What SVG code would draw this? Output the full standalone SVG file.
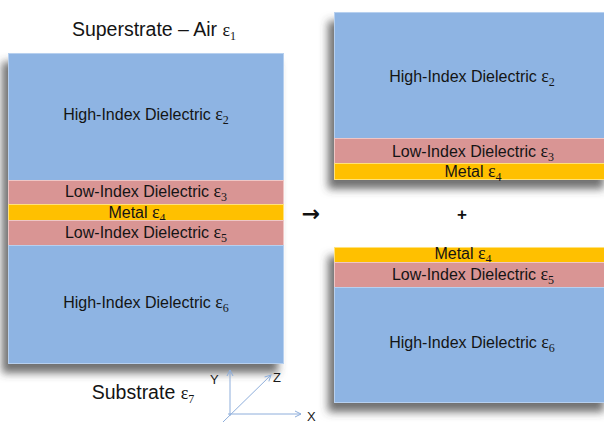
<svg xmlns="http://www.w3.org/2000/svg" width="604" height="423" viewBox="0 0 604 423">
<defs>
<filter id="sh" x="-20%" y="-20%" width="140%" height="140%">
<feDropShadow dx="-6" dy="9" stdDeviation="4.5" flood-color="#404040" flood-opacity="0.75"/>
</filter>
<marker id="ah" viewBox="0 0 8 8" refX="7" refY="4" markerWidth="8" markerHeight="8" markerUnits="userSpaceOnUse" orient="auto">
<path d="M1,1 L7,4 L1,7" fill="none" stroke="#8eaedb" stroke-width="1"/>
</marker>
</defs>
<style>
.hi{fill:#8eb4e3;stroke:#b7d0ef;stroke-width:1}
.lo{fill:#d99594;stroke:#efc6c5;stroke-width:1}
.me{fill:#ffc000;stroke:#ffe27a;stroke-width:1}
.t{font-family:"Liberation Sans",Arial,sans-serif;font-size:16px;fill:#141414;text-anchor:middle}
.big{font-size:19.5px}
.e{font-family:"Liberation Serif","Times New Roman",serif;font-size:18px}
.s{font-family:"Liberation Serif","Times New Roman",serif;font-size:12px}
.ax{stroke:#8eaedb;stroke-width:1;fill:none}
.axl{font-family:"Liberation Sans",Arial,sans-serif;font-size:13px;fill:#1a1a1a}
</style>
<rect width="604" height="423" fill="#ffffff"/>

<g id="left-stack">
<g filter="url(#sh)">
<rect x="8" y="53" width="276" height="311" fill="#8eb4e3"/>
</g>
<g id="left-high2"><rect class="hi" x="8.5" y="53.5" width="275" height="127"/>
<text class="t" x="146" y="120">High-Index Dielectric <tspan class="e">ε</tspan><tspan class="s" dy="4">2</tspan></text></g>
<g id="left-low3"><rect class="lo" x="8.5" y="180.5" width="275" height="24"/>
<text class="t" x="146" y="197">Low-Index Dielectric <tspan class="e">ε</tspan><tspan class="s" dy="4">3</tspan></text></g>
<g id="left-metal4"><rect class="me" x="8.5" y="204.5" width="275" height="16"/>
<text class="t" x="137" y="218">Metal <tspan class="e">ε</tspan><tspan class="s" dy="4">4</tspan></text></g>
<g id="left-low5"><rect class="lo" x="8.5" y="220.5" width="275" height="25"/>
<text class="t" x="146" y="238">Low-Index Dielectric <tspan class="e">ε</tspan><tspan class="s" dy="4">5</tspan></text></g>
<g id="left-high6"><rect class="hi" x="8.5" y="245.5" width="275" height="118"/>
<text class="t" x="146" y="308">High-Index Dielectric <tspan class="e">ε</tspan><tspan class="s" dy="4">6</tspan></text></g>
</g>

<g id="superstrate"><text class="t big" x="154" y="36">Superstrate – Air <tspan class="e" font-size="21">ε</tspan><tspan class="s" font-size="14" dy="4">1</tspan></text></g>
<g id="substrate"><text class="t big" x="143" y="399">Substrate <tspan class="e" font-size="21">ε</tspan><tspan class="s" font-size="14" dy="4">7</tspan></text></g>

<g id="right-top">
<g filter="url(#sh)">
<rect x="334" y="12" width="276" height="168" fill="#8eb4e3"/>
</g>
<g id="rt-high2"><rect class="hi" x="334.5" y="12.5" width="275" height="126"/>
<text class="t" x="472" y="82">High-Index Dielectric <tspan class="e">ε</tspan><tspan class="s" dy="4">2</tspan></text></g>
<g id="rt-low3"><rect class="lo" x="334.5" y="138.5" width="275" height="25"/>
<text class="t" x="473" y="157">Low-Index Dielectric <tspan class="e">ε</tspan><tspan class="s" dy="4">3</tspan></text></g>
<g id="rt-metal4"><rect class="me" x="334.5" y="163.5" width="275" height="16"/>
<text class="t" x="473" y="177">Metal <tspan class="e">ε</tspan><tspan class="s" dy="4">4</tspan></text></g>
</g>

<g id="right-bottom">
<g filter="url(#sh)">
<rect x="334" y="247" width="276" height="156" fill="#8eb4e3"/>
</g>
<g id="rb-metal4"><rect class="me" x="334.5" y="247.5" width="275" height="15"/>
<text class="t" x="463" y="259">Metal <tspan class="e">ε</tspan><tspan class="s" dy="4">4</tspan></text></g>
<g id="rb-low5"><rect class="lo" x="334.5" y="262.5" width="275" height="25"/>
<text class="t" x="473" y="280">Low-Index Dielectric <tspan class="e">ε</tspan><tspan class="s" dy="4">5</tspan></text></g>
<g id="rb-high6"><rect class="hi" x="334.5" y="287.5" width="275" height="115"/>
<text class="t" x="472" y="348">High-Index Dielectric <tspan class="e">ε</tspan><tspan class="s" dy="4">6</tspan></text></g>
</g>

<g id="operators">
<text x="311" y="221" font-family="'DejaVu Sans',sans-serif" font-size="22" font-weight="bold" text-anchor="middle" fill="#111">→</text>
<text x="462" y="220" font-family="'Liberation Sans',Arial,sans-serif" font-size="17" font-weight="bold" text-anchor="middle" fill="#111">+</text>
</g>

<g id="connectors">
<line class="ax" x1="230" y1="416" x2="230" y2="370" marker-end="url(#ah)"/>
<line class="ax" x1="228" y1="414" x2="301" y2="414" marker-end="url(#ah)"/>
<line class="ax" x1="223" y1="422" x2="271" y2="375" marker-end="url(#ah)"/>
</g>
<g id="axis-labels">
<text class="axl" x="210" y="384">Y</text>
<text class="axl" x="273" y="382">Z</text>
<text class="axl" x="307" y="421">X</text>
</g>
</svg>
